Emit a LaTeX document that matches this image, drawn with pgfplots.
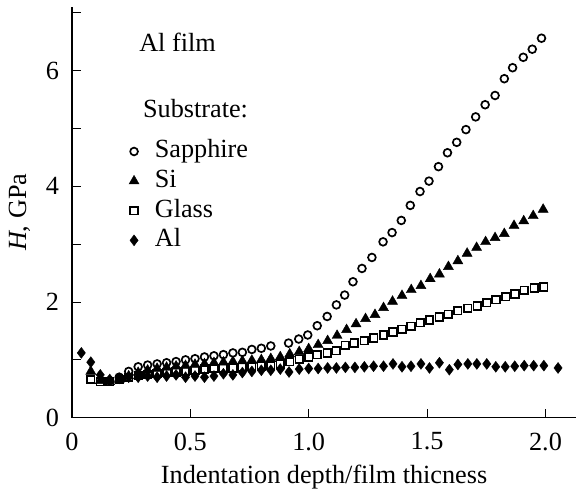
\documentclass[border=0pt]{standalone}
\usepackage{pgfplots}
\pgfplotsset{compat=1.18}
\usepackage{fontspec}
\setmainfont{Liberation Serif}
\newcommand{\bigf}{\fontsize{26.4}{31}\selectfont}
\begin{document}
\bigf
\begin{tikzpicture}
\begin{axis}[
  width=506bp, height=412bp, scale only axis,
  xmin=0, xmax=2.13, ymin=0, ymax=7.1,
  axis x line=bottom, axis y line=left,
  axis line style={-, line width=1.4pt},
  tick align=inside,
  major tick length=9bp, minor tick length=9bp,
  tick style={line width=1pt, black},
  xtick={0,0.5,1,1.5,2}, xticklabels={0,0.5,1.0,1.5,2.0},
  ytick={0,2,4,6}, minor ytick={1,3,5,7},
  /pgf/number format/assume math mode=true,
  ticklabel style={font=\bigf},
  label style={font=\bigf},
  xlabel={Indentation depth/film thicness},
  ylabel={\textit{H}, GPa},
  xticklabel style={yshift=-6bp},
  yticklabel style={xshift=-4bp},
  xlabel style={yshift=3bp},
  ylabel style={yshift=-2bp},
  clip=false,
  legend image code/.code={\draw[#1] plot coordinates {(0bp,0bp)}; \path (-6bp,0bp) (18bp,0bp);},
  legend style={draw=none, fill=none, at={(axis cs:0.233,4.855)}, anchor=north west,
    row sep=0.7bp, inner sep=0pt,
    nodes={font=\bigf, inner sep=2bp, text height=19bp, text depth=6bp, anchor=west},
    legend cell align=left},
]
\addplot[only marks, mark=o, mark size=3.9bp, line width=1.7pt, black] coordinates {
(0.16,0.64) (0.20,0.70) (0.24,0.80) (0.28,0.88) (0.32,0.91) (0.36,0.93) (0.40,0.95) (0.44,0.97)
(0.48,1.00) (0.52,1.02) (0.56,1.05) (0.60,1.07) (0.64,1.09) (0.68,1.12) (0.72,1.13) (0.76,1.18)
(0.80,1.20) (0.84,1.24) (0.915,1.29) (0.958,1.36) (0.996,1.43) (1.036,1.59) (1.078,1.75) (1.117,1.95)
(1.152,2.12) (1.187,2.35) (1.225,2.58) (1.267,2.77) (1.314,3.04) (1.352,3.20) (1.391,3.41) (1.429,3.67)
(1.470,3.91) (1.508,4.09) (1.548,4.34) (1.586,4.58) (1.625,4.76) (1.664,4.98) (1.705,5.20) (1.745,5.41)
(1.787,5.57) (1.826,5.86) (1.861,6.05) (1.906,6.23) (1.944,6.37) (1.983,6.56)
};
\addlegendentry{Sapphire}
\addplot[only marks, mark=triangle*, mark size=5.8bp, black] coordinates {
(0.08,0.80) (0.12,0.64) (0.16,0.62) (0.20,0.66) (0.24,0.72) (0.28,0.78) (0.32,0.82) (0.36,0.85)
(0.40,0.87) (0.44,0.89) (0.48,0.90) (0.52,0.92) (0.56,0.93) (0.60,0.95) (0.64,0.96) (0.68,0.97)
(0.72,0.98) (0.76,0.99) (0.80,1.00) (0.84,1.02) (0.88,1.05) (0.92,1.10) (0.96,1.14) (1.00,1.19)
(1.04,1.26) (1.08,1.33) (1.12,1.42) (1.16,1.52) (1.20,1.62) (1.24,1.71) (1.28,1.78) (1.316,1.90)
(1.354,2.01) (1.394,2.11) (1.433,2.21) (1.474,2.28) (1.513,2.40) (1.552,2.48) (1.59,2.61) (1.63,2.71)
(1.669,2.84) (1.709,2.94) (1.747,3.04) (1.787,3.11) (1.826,3.18) (1.867,3.32) (1.908,3.40) (1.948,3.49)
(1.99,3.60)
};
\addlegendentry{Si}
\addplot[only marks, mark=square, mark size=3.8bp, line width=1.7pt, black] coordinates {
(0.08,0.66) (0.12,0.62) (0.16,0.62) (0.20,0.66) (0.24,0.70) (0.28,0.73) (0.32,0.75) (0.36,0.77)
(0.40,0.78) (0.44,0.79) (0.48,0.80) (0.52,0.82) (0.56,0.84) (0.60,0.85) (0.64,0.86) (0.68,0.86)
(0.72,0.87) (0.76,0.88) (0.80,0.89) (0.84,0.90) (0.88,0.93) (0.92,0.97) (0.96,1.01) (1.00,1.05)
(1.036,1.09) (1.078,1.12) (1.117,1.16) (1.155,1.25) (1.193,1.29) (1.235,1.33) (1.274,1.38) (1.316,1.43)
(1.356,1.48) (1.394,1.53) (1.432,1.58) (1.471,1.64) (1.51,1.69) (1.551,1.74) (1.59,1.79) (1.629,1.85)
(1.672,1.89) (1.712,1.93) (1.752,1.99) (1.791,2.04) (1.832,2.09) (1.871,2.14) (1.91,2.20) (1.952,2.24)
(1.993,2.26)
};
\addlegendentry{Glass}
\addplot[only marks, mark=diamond*, mark size=5.5bp, black] coordinates {
(0.04,1.12) (0.08,0.96) (0.12,0.74) (0.16,0.66) (0.20,0.68) (0.24,0.70) (0.28,0.70) (0.32,0.72)
(0.36,0.70) (0.40,0.72) (0.44,0.74) (0.48,0.70) (0.52,0.72) (0.56,0.70) (0.60,0.72) (0.64,0.76)
(0.68,0.74) (0.72,0.78) (0.76,0.80) (0.80,0.82) (0.84,0.82) (0.88,0.84) (0.917,0.79) (0.96,0.84)
(1.00,0.85) (1.04,0.85) (1.08,0.86) (1.117,0.86) (1.155,0.87) (1.195,0.87) (1.235,0.88) (1.274,0.89)
(1.316,0.89) (1.356,0.93) (1.394,0.88) (1.432,0.89) (1.474,0.93) (1.51,0.86) (1.552,0.95) (1.594,0.83)
(1.63,0.92) (1.672,0.93) (1.71,0.93) (1.752,0.93) (1.79,0.88) (1.83,0.88) (1.87,0.89) (1.91,0.90)
(1.95,0.90) (1.993,0.90) (2.053,0.86)
};
\addlegendentry{Al}
\node[anchor=base west, inner sep=0pt, font=\bigf] at (axis cs:0.284,6.33) {Al film};
\node[anchor=base west, inner sep=0pt, font=\bigf] at (axis cs:0.30,5.19) {Substrate:};
\path (rel axis cs:0,1) ++(0,7bp);
\end{axis}
\end{tikzpicture}
\end{document}
